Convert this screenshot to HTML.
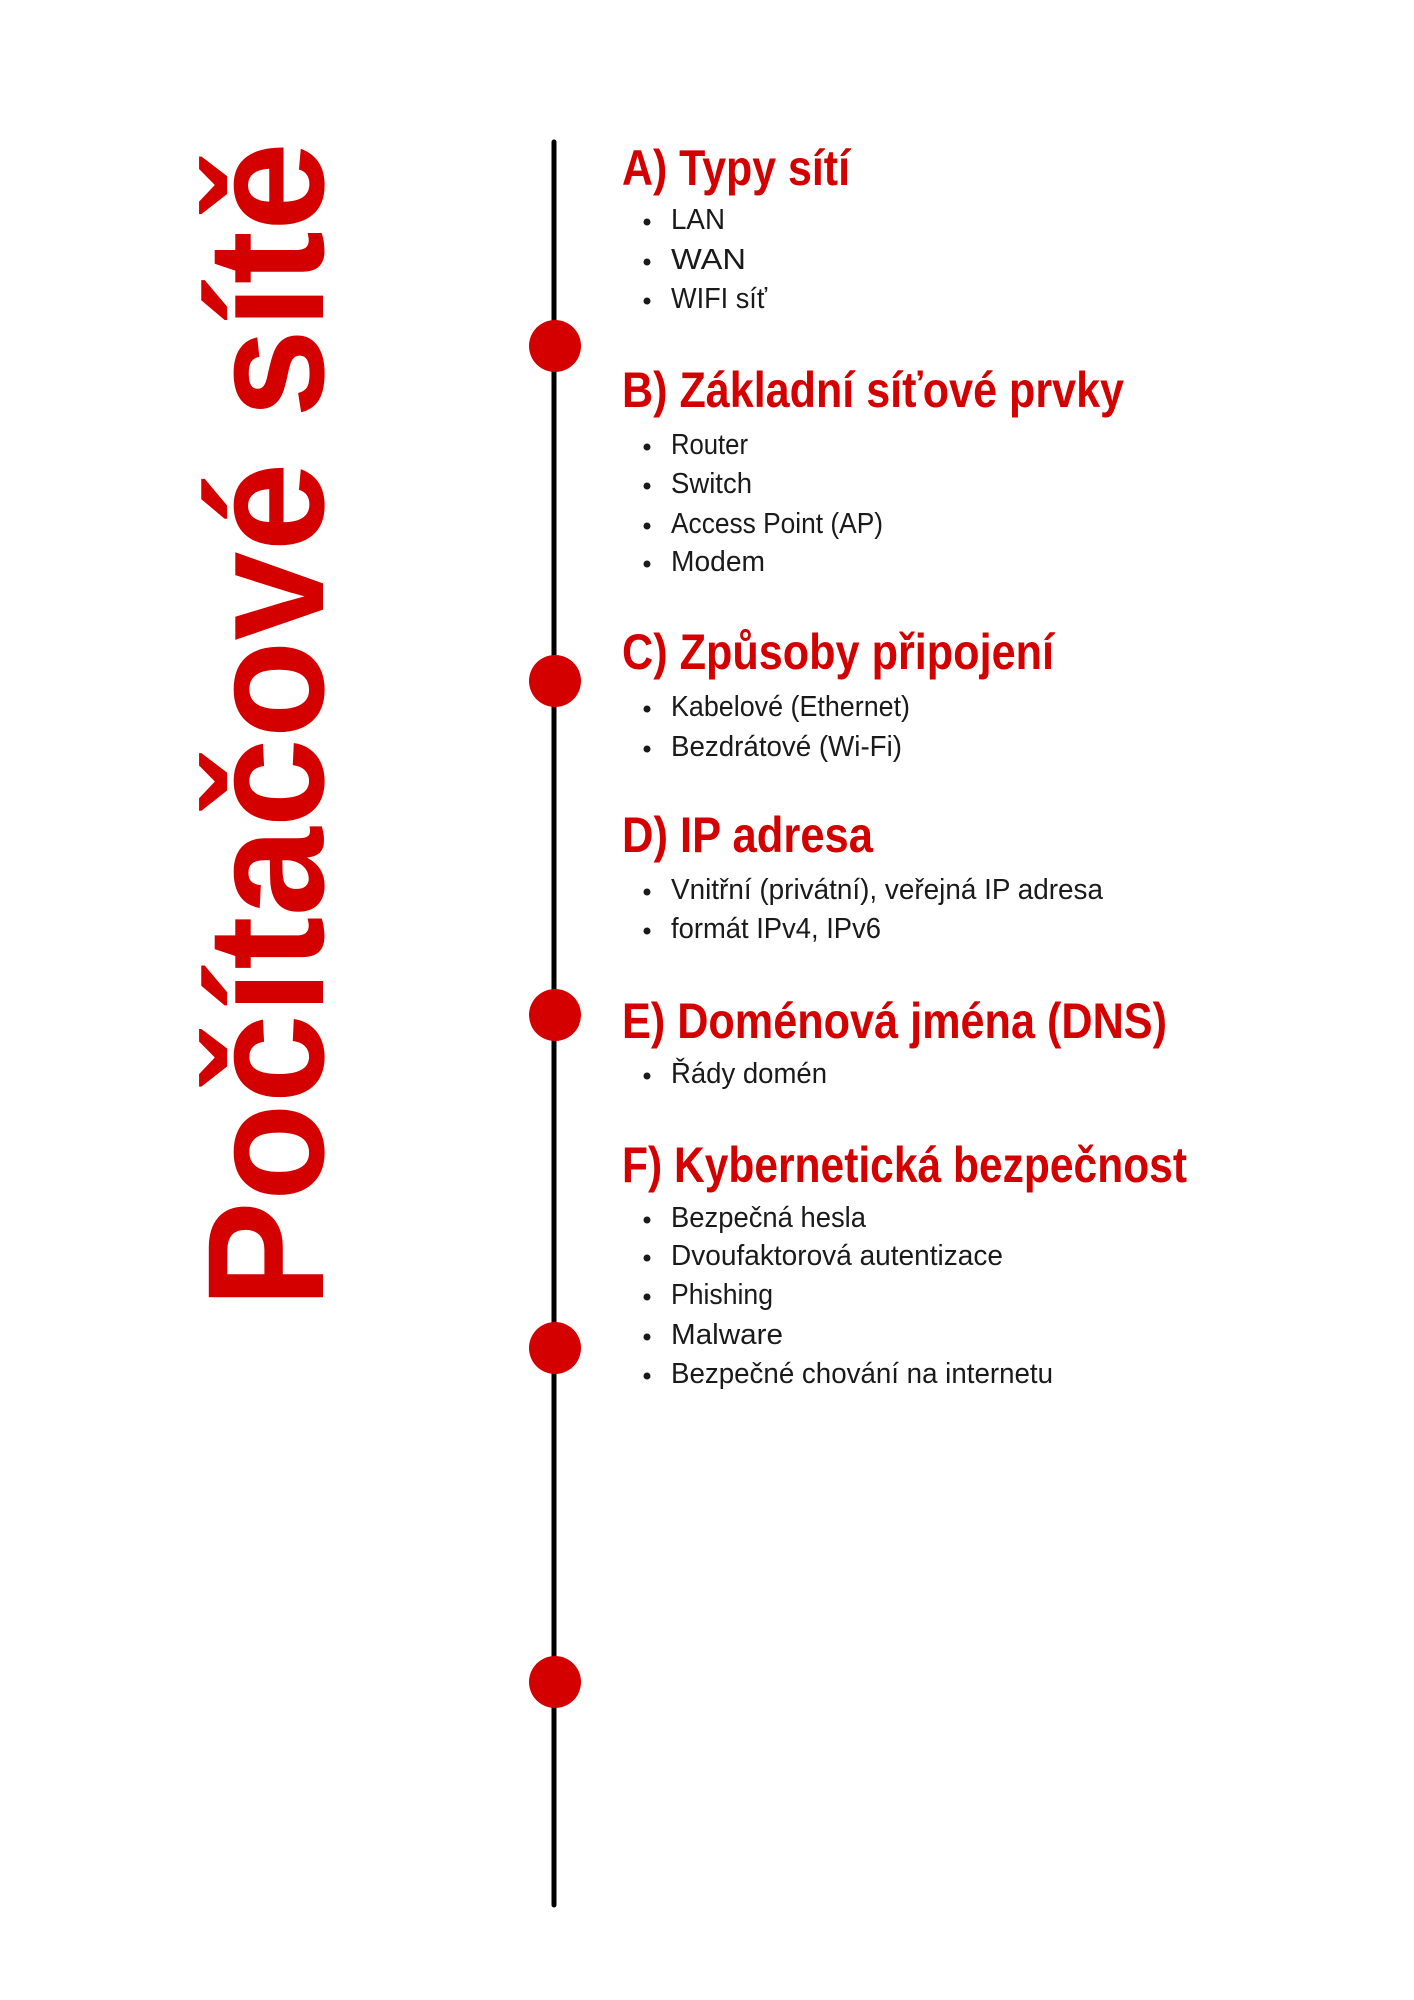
<!DOCTYPE html>
<html><head><meta charset="utf-8"><style>
html,body{margin:0;padding:0;background:#fff;}
svg{display:block;}
.h{font-family:"Liberation Sans",sans-serif;font-weight:bold;fill:#d40000;font-size:50px;}
.b{font-family:"Liberation Sans",sans-serif;fill:#1a1a1a;font-size:29px;}
</style></head><body>
<svg width="1414" height="2000" viewBox="0 0 1414 2000" xmlns="http://www.w3.org/2000/svg">
<rect width="1414" height="2000" fill="#fff"/>
<g transform="translate(-4,-4)">
<text transform="translate(327,1312) rotate(-90)" x="0" y="0" style="font-family:'Liberation Sans',sans-serif;font-weight:bold;fill:#d40000;font-size:166px" textLength="1166" lengthAdjust="spacingAndGlyphs">Počítačové sítě</text>
<line x1="558" y1="146" x2="558" y2="1909" stroke="#000" stroke-width="5" stroke-linecap="round"/>
<g fill="#d40000">
<circle cx="559" cy="350" r="26"/>
<circle cx="559" cy="685" r="26"/>
<circle cx="559" cy="1019" r="26"/>
<circle cx="559" cy="1352" r="26"/>
<circle cx="559" cy="1686" r="26"/>
</g>
<g class="h">
<text x="626" y="189" textLength="228" lengthAdjust="spacingAndGlyphs">A) Typy sítí</text>
<text x="626" y="411" textLength="502" lengthAdjust="spacingAndGlyphs">B) Základní síťové prvky</text>
<text x="626" y="673" textLength="432" lengthAdjust="spacingAndGlyphs">C) Způsoby připojení</text>
<text x="626" y="856" textLength="251" lengthAdjust="spacingAndGlyphs">D) IP adresa</text>
<text x="626" y="1042" textLength="545" lengthAdjust="spacingAndGlyphs">E) Doménová jména (DNS)</text>
<text x="626" y="1186" textLength="565" lengthAdjust="spacingAndGlyphs">F) Kybernetická bezpečnost</text>
</g>
<g fill="#1a1a1a">
<circle cx="651" cy="226" r="3.5"/><circle cx="651" cy="266" r="3.5"/><circle cx="651" cy="305" r="3.5"/>
<circle cx="651" cy="451" r="3.5"/><circle cx="651" cy="490" r="3.5"/><circle cx="651" cy="530" r="3.5"/><circle cx="651" cy="568" r="3.5"/>
<circle cx="651" cy="713" r="3.5"/><circle cx="651" cy="753" r="3.5"/>
<circle cx="651" cy="896" r="3.5"/><circle cx="651" cy="935" r="3.5"/>
<circle cx="651" cy="1080" r="3.5"/>
<circle cx="651" cy="1224" r="3.5"/><circle cx="651" cy="1262" r="3.5"/><circle cx="651" cy="1301" r="3.5"/><circle cx="651" cy="1341" r="3.5"/><circle cx="651" cy="1380" r="3.5"/>
</g>
<g class="b">
<text x="675" y="233" textLength="54" lengthAdjust="spacingAndGlyphs">LAN</text>
<text x="675" y="273" textLength="75" lengthAdjust="spacingAndGlyphs">WAN</text>
<text x="675" y="312" textLength="96" lengthAdjust="spacingAndGlyphs">WIFI síť</text>
<text x="675" y="458" textLength="77" lengthAdjust="spacingAndGlyphs">Router</text>
<text x="675" y="497" textLength="81" lengthAdjust="spacingAndGlyphs">Switch</text>
<text x="675" y="537" textLength="212" lengthAdjust="spacingAndGlyphs">Access Point (AP)</text>
<text x="675" y="575" textLength="94" lengthAdjust="spacingAndGlyphs">Modem</text>
<text x="675" y="720" textLength="239" lengthAdjust="spacingAndGlyphs">Kabelové (Ethernet)</text>
<text x="675" y="760" textLength="231" lengthAdjust="spacingAndGlyphs">Bezdrátové (Wi-Fi)</text>
<text x="675" y="903" textLength="432" lengthAdjust="spacingAndGlyphs">Vnitřní (privátní), veřejná IP adresa</text>
<text x="675" y="942" textLength="210" lengthAdjust="spacingAndGlyphs">formát IPv4, IPv6</text>
<text x="675" y="1087" textLength="156" lengthAdjust="spacingAndGlyphs">Řády domén</text>
<text x="675" y="1231" textLength="195" lengthAdjust="spacingAndGlyphs">Bezpečná hesla</text>
<text x="675" y="1269" textLength="332" lengthAdjust="spacingAndGlyphs">Dvoufaktorová autentizace</text>
<text x="675" y="1308" textLength="102" lengthAdjust="spacingAndGlyphs">Phishing</text>
<text x="675" y="1348" textLength="112" lengthAdjust="spacingAndGlyphs">Malware</text>
<text x="675" y="1387" textLength="382" lengthAdjust="spacingAndGlyphs">Bezpečné chování na internetu</text>
</g>
</g>
</svg>
</body></html>
